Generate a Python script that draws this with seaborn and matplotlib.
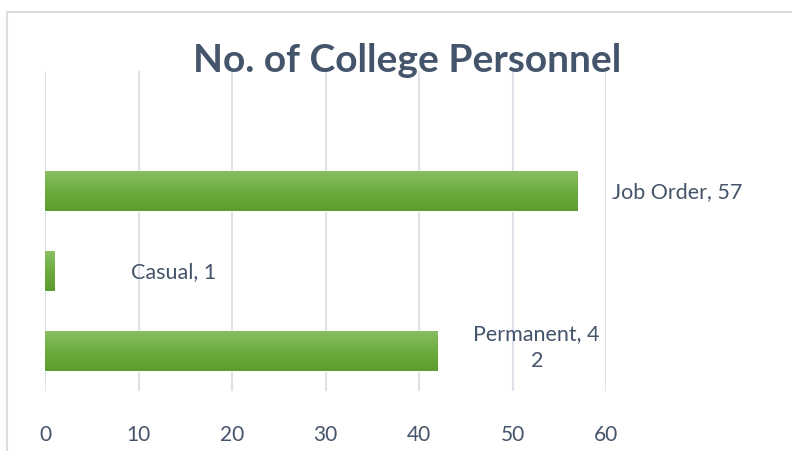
import numpy as np
import pandas as pd
import seaborn as sns
import matplotlib.pyplot as plt
from matplotlib.colors import LinearSegmentedColormap
from matplotlib.patches import Rectangle

# data
categories = ["Job Order", "Casual", "Permanent"]
counts = [57, 1, 42]
labels = ["Job Order, 57", "Casual, 1", "Permanent, 4\n2"]
xticks = [0, 10, 20, 30, 40, 50, 60]

text_col = "#44546A"
grid_col = "#DDE1E8"

sns.set_theme(style="white")
plt.rcParams["font.family"] = ["Lato", "DejaVu Sans"]

df = pd.DataFrame({"cat": categories, "n": counts})

fig = plt.figure(figsize=(7.92, 4.52), dpi=100)
ax = fig.add_axes([45 / 792, 60 / 452, 561 / 792, 320 / 452])

sns.barplot(data=df, x="n", y="cat", order=categories, color="#6DAE3F",
            width=0.5, ax=ax, zorder=3)

# vertical green gradient on each bar
cmap = LinearSegmentedColormap.from_list("g", ["#89BD63", "#6CAD3E", "#5C9C2E"])
grad = np.linspace(0, 1, 64).reshape(-1, 1)
for p in ax.patches:
    x0, y0 = p.get_x(), p.get_y()
    w, h = p.get_width(), p.get_height()
    im = ax.imshow(grad, cmap=cmap, aspect="auto", zorder=4,
                   extent=[x0, x0 + w, y0 + h, y0], origin="upper")
    im.set_clip_path(p)

ax.set_xlim(0, 60)
ax.set_ylim(2.5, -1.5)
ax.set_xticks(xticks)
ax.set_yticks([])
ax.set_xlabel("")
ax.set_ylabel("")
ax.grid(axis="x", color=grid_col, linewidth=1.5, zorder=0)
ax.set_axisbelow(True)
for s in ax.spines.values():
    s.set_visible(False)
ax.tick_params(axis="x", length=0, pad=24, labelsize=15, labelcolor=text_col)

# data labels
offsets = [(34, 0, "left"), (77, 0, "left"), (99, 3, "center")]
for i, (v, lab) in enumerate(zip(counts, labels)):
    dx, dy, ha = offsets[i]
    ax.annotate(lab, xy=(v, i), xytext=(dx * 0.72, dy), textcoords="offset points",
                ha=ha, va="center", fontsize=15.5, color=text_col,
                linespacing=1.45, annotation_clip=False)

fig.text(407 / 792, 1 - 60 / 452, "No. of College Personnel", ha="center",
         va="center", fontsize=28, fontweight="bold", color=text_col)

# chart frame
fig.patches.append(Rectangle((7 / 792, -0.1), 1.2, 1 - 13 / 452 + 0.1,
                             transform=fig.transFigure, fill=False,
                             edgecolor="#D9DCE1", linewidth=1.5))

fig.savefig("out.png", dpi=100, facecolor="white")
